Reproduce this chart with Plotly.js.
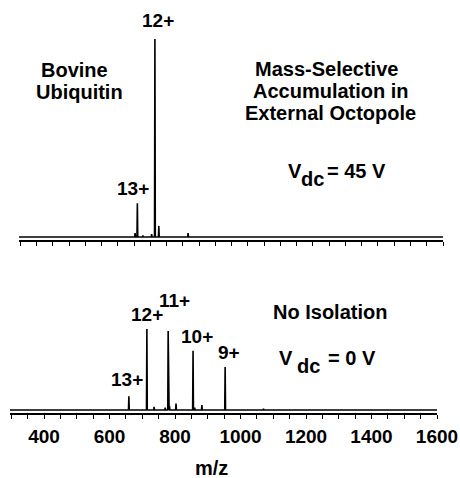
<!DOCTYPE html>
<html>
<head>
<meta charset="utf-8">
<script src="https://cdn.plot.ly/plotly-3.0.1.min.js"></script>
<style>html,body{margin:0;padding:0;background:#fff;}#chart{width:460px;height:478px;}</style>
</head>
<body>
<div id="chart"></div>
<script>
// ---- Data ----
// Top spectrum: mass-selective accumulation (Vdc = 45 V), intensity relative to 12+ = 100
const topMz        = [653, 660, 677, 704, 714, 726, 816];
const topIntensity = [2,   17,  0.8, 1.5, 100, 5.5, 2];
const topLabels    = ["13+", "12+"];
const topLabelMz   = [660, 714];

// Bottom spectrum: no isolation (Vdc = 0 V)
const botMz        = [659, 714, 736, 770, 779, 783, 803, 855, 860, 882, 953, 1070];
const botIntensity = [17,  100, 4,   3,   97.5, 5,  8,   73,  3,   6,   53,  1.5];
const botLabels    = ["13+", "12+", "11+", "10+", "9+"];

const mzRange   = [296, 1600];
const tickVals  = [400, 600, 800, 1000, 1200, 1400, 1600];
const tickText  = ["400", "600", "800", "1000", "1200", "1400", "1600"];

// ---- Build stick spectra from the arrays ----
function sticks(mz, inten) {
  const idx = mz.map((_, i) => i).sort((a, b) => mz[a] - mz[b]);
  const xs = [mzRange[0]], ys = [0];
  const d = 1.2;
  idx.forEach(i => {
    xs.push(mz[i] - d, mz[i], mz[i] + d);
    ys.push(0, inten[i], 0);
  });
  xs.push(mzRange[1]); ys.push(0);
  return {x: xs, y: ys};
}
const topS = sticks(topMz, topIntensity);
const botS = sticks(botMz, botIntensity);

const W = 460, H = 478;
const fx = x => x / W;
const fy = y => 1 - y / H;

const FONT = 'Liberation Sans, Arial, Helvetica, sans-serif';
function txt(text, x, y, size) {
  return {text: text, xref: 'paper', yref: 'paper', x: fx(x), y: fy(y),
    xanchor: 'center', yanchor: 'middle', showarrow: false,
    font: {family: FONT, size: size || 20, color: '#000', weight: 'bold'}};
}

const traces = [
  {x: topS.x, y: topS.y, xaxis: 'x2', yaxis: 'y2', type: 'scatter', mode: 'lines',
   line: {color: '#000', width: 1.6}, hoverinfo: 'skip'},
  {x: botS.x, y: botS.y, xaxis: 'x', yaxis: 'y', type: 'scatter', mode: 'lines',
   line: {color: '#000', width: 1.6}, hoverinfo: 'skip'}
];

const axisCommon = {
  range: mzRange, showgrid: false, zeroline: false, showline: true,
  linecolor: '#000', linewidth: 1.5, ticks: 'outside', ticklen: 4, tickwidth: 1,
  tickcolor: '#000', tickmode: 'array', tickvals: tickVals, ticktext: tickText,
  minor: {dtick: 50, tick0: 0, ticks: 'outside', ticklen: 4, tickwidth: 1, tickcolor: '#000', showgrid: false}
};

const layout = {
  width: W, height: H,
  margin: {l: 0, r: 0, t: 0, b: 0},
  paper_bgcolor: '#fff', plot_bgcolor: '#fff',
  showlegend: false,
  xaxis: Object.assign({}, axisCommon, {
    domain: [fx(10), fx(437)], anchor: 'y',
    tickfont: {family: FONT, size: 19, color: '#000', weight: 'bold'}, ticklabelstandoff: 2
  }),
  yaxis: {domain: [fy(413), fy(329)], range: [-3.7, 100], visible: false, anchor: 'x'},
  xaxis2: Object.assign({}, axisCommon, {
    domain: [fx(19), fx(443)], anchor: 'y2', showticklabels: false
  }),
  yaxis2: {domain: [fy(240), fy(39)], range: [-1.5, 100], visible: false, anchor: 'x2'},
  annotations: [
    // top panel
    txt(topLabels[1], 158, 21, 19),
    txt(topLabels[0], 133, 188, 19),
    txt('Bovine', 74, 70),
    txt('Ubiquitin', 79, 92),
    txt('Mass-Selective', 326, 69),
    txt('Accumulation in', 331, 91),
    txt('External Octopole', 330, 113),
    txt('V', 294.5, 170.5),
    txt('dc', 312, 179),
    txt('= 45 V', 356, 170.5),
    // bottom panel
    txt(botLabels[2], 174, 300, 19),
    txt(botLabels[1], 147, 314, 19),
    txt(botLabels[3], 197, 336, 19),
    txt(botLabels[4], 229, 352, 19),
    txt(botLabels[0], 127, 379, 19),
    txt('No Isolation', 330, 312),
    txt('V', 285.5, 357.5),
    txt('dc', 308, 366),
    txt('= 0 V', 351.5, 357.5),
    txt('m/z', 211, 468)
  ]
};

Plotly.newPlot('chart', traces, layout, {staticPlot: true, displayModeBar: false});
</script>
</body>
</html>
